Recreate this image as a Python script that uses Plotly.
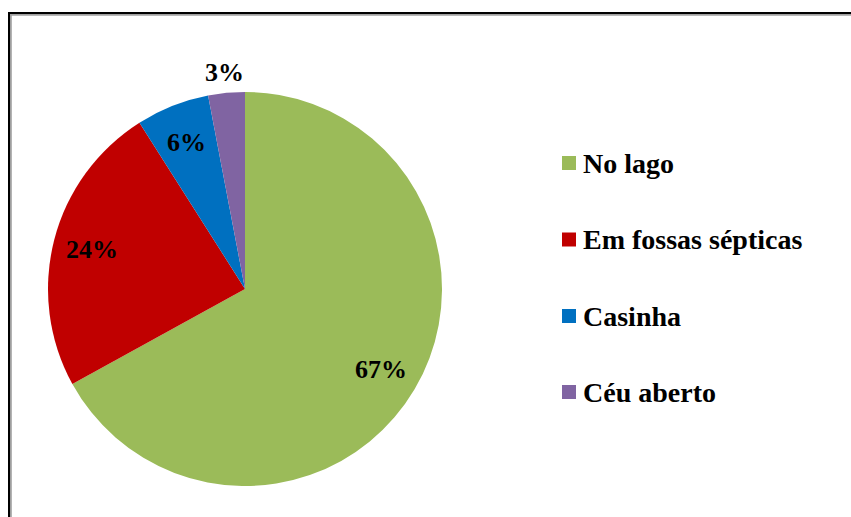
import math
import plotly.graph_objects as go

# Destino dos dejetos (%)
categories = ["No lago", "Em fossas sépticas", "Casinha", "Céu aberto"]
values = [67, 24, 6, 3]
colors = ["#9BBB59", "#C00000", "#0070C0", "#8064A2"]

W, H = 851, 517
FONT = "'Liberation Serif', 'Times New Roman', serif"

# pie geometry in pixels
cx, cy, r = 245, 289, 197


def px(x):
    return x / W


def py(y):
    return 1 - y / H


fig = go.Figure()
fig.add_trace(go.Pie(
    labels=categories,
    values=values,
    marker=dict(colors=colors, line=dict(width=0)),
    sort=False,
    direction="clockwise",
    rotation=0,
    textinfo="none",
    hoverinfo="label+percent",
    showlegend=False,
    domain=dict(x=[px(cx - r), px(cx + r)], y=[py(cy + r), py(cy - r)]),
))

annotations = []
shapes = []

# percentage labels placed along each slice's mid-angle
total = sum(values)
start = 0.0
for v in values:
    frac = v / total
    mid = (start + frac / 2) * 2 * math.pi
    start += frac
    rf = 0.80 if frac > 0.05 else 1.105
    lx = cx + rf * r * math.sin(mid)
    ly = cy - rf * r * math.cos(mid)
    annotations.append(dict(
        x=px(lx), y=py(ly), xref="paper", yref="paper",
        text=f"<b>{round(frac * 100)}%</b>", showarrow=False,
        font=dict(family=FONT, size=26, color="black"),
        xanchor="center", yanchor="middle",
    ))

# legend: colored squares with bold labels
leg_y = [163, 239.5, 316, 392]
for cat, col, yy in zip(categories, colors, leg_y):
    shapes.append(dict(
        type="rect", xref="paper", yref="paper",
        x0=px(562), x1=px(576), y0=py(yy + 7), y1=py(yy - 7),
        fillcolor=col, line=dict(width=0),
    ))
    annotations.append(dict(
        x=px(581), y=py(yy), xref="paper", yref="paper",
        text=f"<b>{cat}</b>", showarrow=False,
        font=dict(family=FONT, size=28, color="black"),
        xanchor="left", yanchor="middle",
    ))

# chart frame (top and left edges with soft shadow)
shapes += [
    dict(type="line", xref="paper", yref="paper", x0=px(10), x1=px(W + 5),
         y0=py(14.8), y1=py(14.8), line=dict(color="#A0A0A0", width=2)),
    dict(type="line", xref="paper", yref="paper", x0=px(10.8), x1=px(10.8),
         y0=py(14), y1=py(H + 5), line=dict(color="#A0A0A0", width=2)),
    dict(type="line", xref="paper", yref="paper", x0=px(8), x1=px(W + 5),
         y0=py(13), y1=py(13), line=dict(color="black", width=2)),
    dict(type="line", xref="paper", yref="paper", x0=px(9), x1=px(9),
         y0=py(12), y1=py(H + 5), line=dict(color="black", width=2)),
]

fig.update_layout(
    width=W, height=H,
    margin=dict(l=0, r=0, t=0, b=0),
    paper_bgcolor="white", plot_bgcolor="white",
    annotations=annotations, shapes=shapes,
    showlegend=False,
)

fig.write_html("out.html")
